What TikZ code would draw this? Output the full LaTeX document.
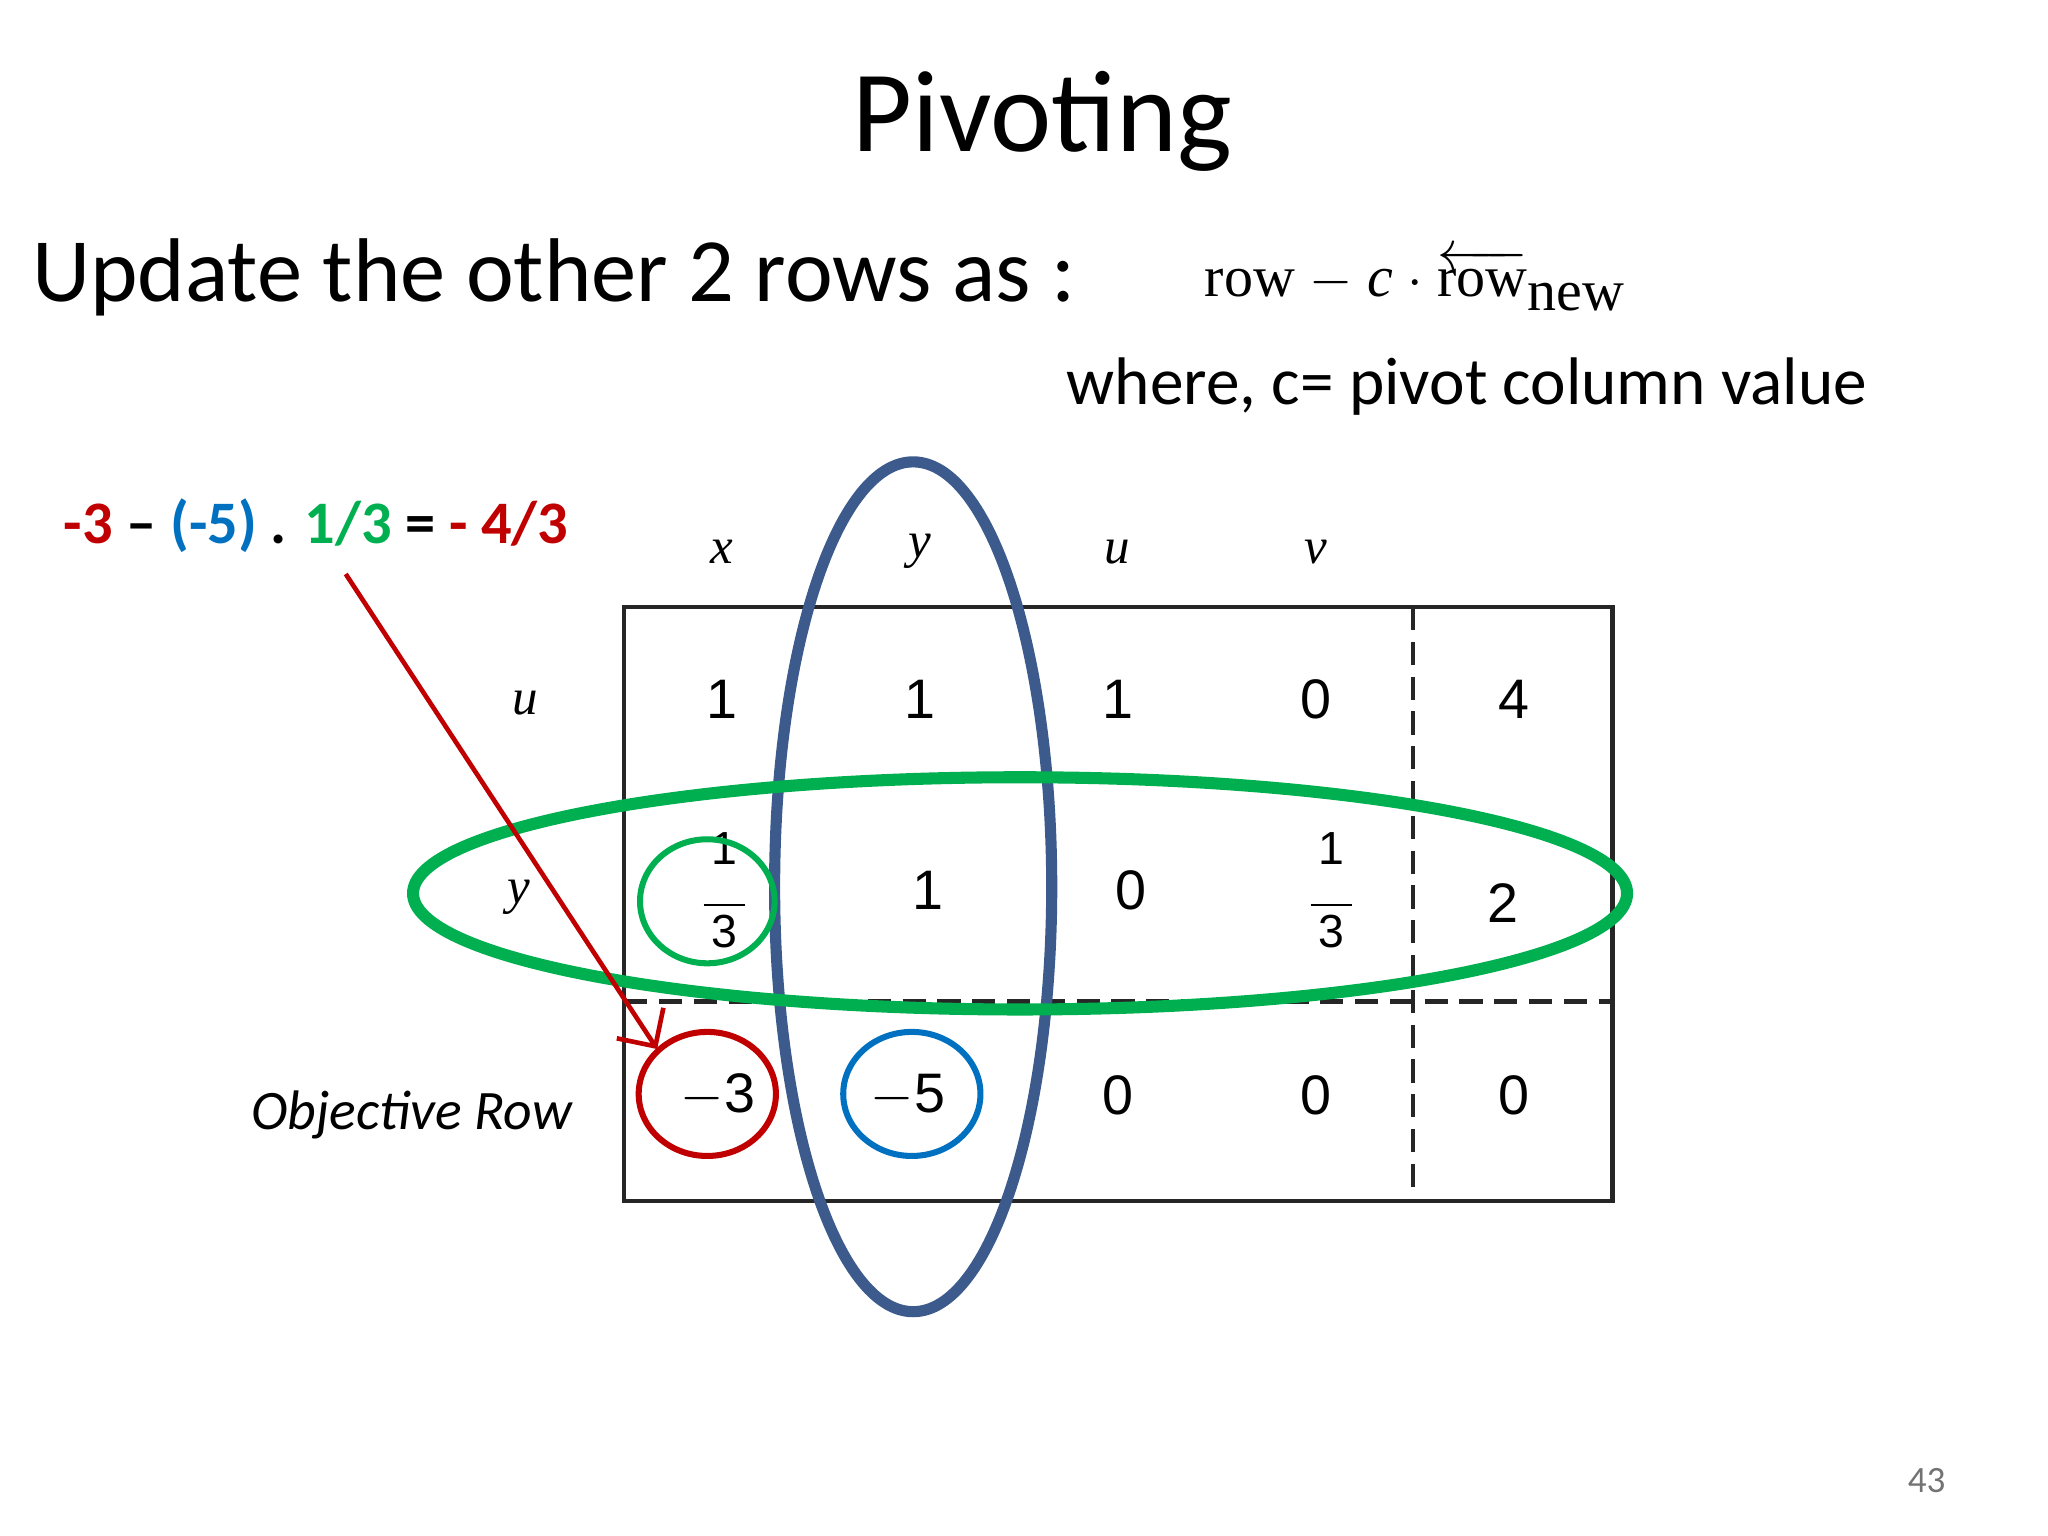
\documentclass[tikz,border=0pt]{standalone}
\usetikzlibrary{arrows.meta}
\usepackage{fontspec}
\usepackage{amsmath}
\setmainfont{Carlito}
\newfontfamily\tabfont{Liberation Sans}
\newfontfamily\serfont{Liberation Serif}
\definecolor{cred}{RGB}{192,0,0}
\definecolor{cblue}{RGB}{0,112,192}
\definecolor{cgreen}{RGB}{0,176,80}
\definecolor{cnavy}{RGB}{60,90,140}
\newcommand{\myfrac}[2]{\begin{tabular}{@{}c@{}}#1\\[-3pt]\rule{9pt}{0.5pt}\\[-3pt]#2\end{tabular}}
\begin{document}
\begin{tikzpicture}[x=0.01cm,y=-0.01cm,
  num/.style={font=\tabfont\fontsize{12}{14}\selectfont},
  fr/.style={font=\tabfont\fontsize{10}{12}\selectfont},
  lab/.style={font=\serfont\itshape\fontsize{11}{13}\selectfont},
  grid/.style={line width=0.9pt,draw=black!85},
  dsh/.style={dash pattern=on 5pt off 2.5pt}]
\useasboundingbox (0,0) rectangle (1552,1164);
\node (title) at (790,92) {\fontsize{25}{30}\selectfont Pivoting};
\node[anchor=west] (upd) at (12,210) {\fontsize{19.5}{23}\selectfont Update the other 2 rows as :};
\node (form) at (1072,212) {\serfont\fontsize{12.5}{15}\selectfont row $-$ \textit{c} $\cdot$ $\overleftarrow{\hbox{row}}$\raisebox{-3pt}{new}};
\node[anchor=west] (where) at (796,293) {\fontsize{14.5}{17}\selectfont where, c= pivot column value};
\node[anchor=west] (eq) at (36,398) {\fontsize{13}{15}\selectfont\bfseries\textcolor{cred}{-3} -- \textcolor{cblue}{(-5)} . \textcolor{cgreen}{1/3} = \textcolor{cred}{- 4/3}};
% table
\draw[grid] (473,460) rectangle (1222,910);
\draw[grid,dsh] (1071,460) -- (1071,910);
\draw[grid,dsh] (473,759) -- (1222,759);
\foreach \t/\x in {x/547,y/697,u/847,v/997} \node[lab] (h\t) at (\x,418) {\t};
\node[lab] (ru) at (398,533) {u};
\node[lab] (ry) at (393,680) {y};
\node[font=\itshape\fontsize{12}{14}\selectfont] (obj) at (312,845) {Objective Row};
\node[num] (a1) at (547,530) {1};
\node[num] (a2) at (697,530) {1};
\node[num] (a3) at (847,530) {1};
\node[num] (a4) at (997,530) {0};
\node[num] (a5) at (1147,530) {4};
\node[fr] (b1) at (549,678) {\myfrac{1}{3}};
\node[num] (b2) at (703,675) {1};
\node[num] (b3) at (857,675) {0};
\node[fr] (b4) at (1009,678) {\myfrac{1}{3}};
\node[num] (b5) at (1139,684) {2};
\node[num] (c1) at (544,830) {$-$3};
\node[num] (c2) at (688,830) {$-$5};
\node[num] (c3) at (847,830) {0};
\node[num] (c4) at (997,830) {0};
\node[num] (c5) at (1147,830) {0};
% highlights
\draw[cnavy,line width=2.4pt] (692,672) ellipse [x radius=105,y radius=322];
\draw[cgreen,line width=2.6pt] (773,677) ellipse [x radius=460,y radius=88];
\draw[cgreen,line width=1.3pt] (536,683) ellipse [x radius=51,y radius=47];
\draw[cred,line width=1.3pt] (536,829) ellipse [x radius=52,y radius=47];
\draw[cblue,line width=1.3pt] (691,829) ellipse [x radius=52,y radius=47];
\coordinate (as) at (262,435);
\coordinate (ae) at (498,795);
\draw[cred,line width=1pt,-{Straight Barb[length=6pt]}] (as) -- (ae);
\node[text=black!55] (pg) at (1460,1122) {\fontsize{8}{10}\selectfont 43};
\end{tikzpicture}
\end{document}
